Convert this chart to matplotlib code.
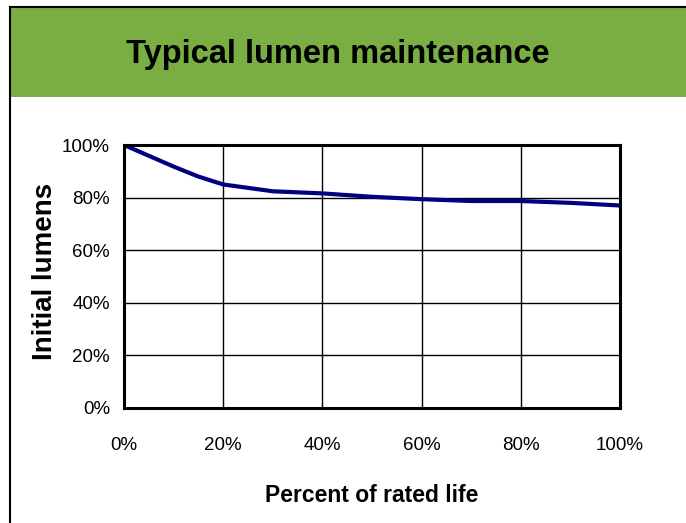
import matplotlib.pyplot as plt
from matplotlib.patches import Rectangle
from matplotlib.lines import Line2D
from matplotlib.ticker import FuncFormatter

# data
life_pct = [0, 10, 15, 20, 30, 40, 50, 60, 70, 80, 90, 100]
lumens_pct = [100, 91.8, 88, 85, 82.4, 81.6, 80.3, 79.4, 78.7, 78.7, 78.0, 77.0]

title = 'Typical lumen maintenance'
x_title = 'Percent of rated life'
y_title = 'Initial lumens'

plt.rcParams['font.family'] = ['Liberation Sans', 'DejaVu Sans']

fig = plt.figure(figsize=(6.86, 5.23), dpi=100)
W, H = 686, 523

# green title banner with black frame edge
fig.patches.append(Rectangle((10 / W, 1 - 97 / H), 1 - 10 / W, 89 / H,
                             transform=fig.transFigure, facecolor='#7aae42',
                             edgecolor='none', zorder=0))
fig.lines.append(Line2D([10 / W, 10 / W], [0, 1 - 7 / H], transform=fig.transFigure,
                        color='black', lw=1.5))
fig.lines.append(Line2D([10 / W, 1], [1 - 7 / H, 1 - 7 / H], transform=fig.transFigure,
                        color='black', lw=1.5))
fig.text(338 / W, 1 - 55 / H, title, ha='center', va='center',
         fontsize=23.5, fontweight='bold')

ax = fig.add_axes([124 / W, 1 - 408 / H, 496 / W, 263 / H])
ax.plot(life_pct, lumens_pct, color='#000080', lw=3, solid_capstyle='butt')
ax.set_xlim(0, 100)
ax.set_ylim(0, 100)
ax.set_xticks(range(0, 101, 20))
ax.set_yticks(range(0, 101, 20))
pct = FuncFormatter(lambda v, p: f'{v:.0f}%')
ax.xaxis.set_major_formatter(pct)
ax.yaxis.set_major_formatter(pct)
ax.tick_params(length=0, labelsize=13.5)
ax.tick_params(axis='x', pad=21)
ax.tick_params(axis='y', pad=10)
ax.grid(True, color='black', lw=1)
ax.set_axisbelow(True)
for s in ax.spines.values():
    s.set_linewidth(2.2)

fig.text(45 / W, 1 - 271 / H, y_title, rotation=90, ha='center', va='center',
         fontsize=20, fontweight='bold')
fig.text(372 / W, 1 - 495 / H, x_title, ha='center', va='center',
         fontsize=16.5, fontweight='bold')

fig.savefig('out.png', dpi=100)
